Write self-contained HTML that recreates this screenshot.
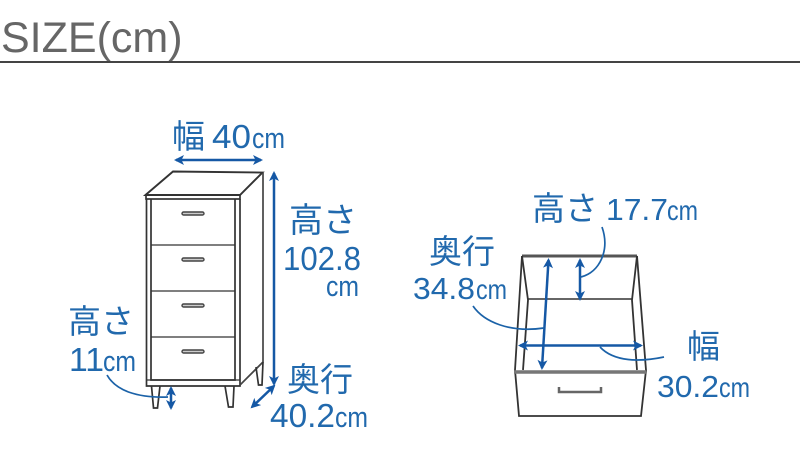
<!DOCTYPE html>
<html><head><meta charset="utf-8"><style>
html,body{margin:0;padding:0;background:#fff}
svg{display:block}
text{font-family:"Liberation Sans","Noto Sans CJK JP",sans-serif;fill:#2169ad}
</style></head><body>
<svg width="800" height="476" viewBox="0 0 800 476" xmlns="http://www.w3.org/2000/svg">
<defs>
<marker id="a" viewBox="0 0 10 10" refX="8" refY="5" markerWidth="4" markerHeight="4" orient="auto-start-reverse" markerUnits="strokeWidth"><path d="M0 0L10 5L0 10L2.500 5Z" fill="#1558a5"/></marker>
</defs>
<text x="1" y="52" font-size="43" style="fill:#666">SIZE(cm)</text>
<rect x="0" y="61" width="800" height="2" fill="#444"/>

<!-- chest -->
<g fill="none" stroke="#333" stroke-width="1.700">
<path d="M145.500 195L173 171.500L262.500 172.500L240 195Z" stroke-width="1.900"/>
<rect x="146" y="195" width="94" height="4"/>
<path d="M146.500 199V386H240V199"/>
<path d="M151 199V380H235V199"/>
<path d="M151 245H235M151 291H235M151 337H235" stroke-width="1.300"/>
<path d="M146.500 380H240" stroke-width="1.300"/>
<path d="M263 173V362L240 385" stroke="#444"/>
<path d="M151.500 386L153.500 408H157.500L160 386"/>
<path d="M225 386L228.500 407H233L234 386"/>
<path d="M256 367L258.500 385H262L263 362"/>
</g>
<g fill="#ccc" stroke="#444" stroke-width="1.400">
<rect x="182" y="212" width="22" height="3" rx="1.500"/>
<rect x="182" y="258" width="22" height="3" rx="1.500"/>
<rect x="182" y="304" width="22" height="3" rx="1.500"/>
<rect x="182" y="350" width="22" height="3" rx="1.500"/>
</g>

<!-- drawer -->
<g fill="none" stroke="#333" stroke-width="1.800">
<path d="M522 256H637" stroke-width="3" stroke="#555"/>
<path d="M522 256L515 370L519 416H641L646 370L637 256"/>
<path d="M522 256L528 300L523 370"/>
<path d="M637 256L632 300L637 370"/>
<path d="M528 299H632" stroke-width="1.400"/>
<path d="M514 372H646" stroke-width="3.500" stroke="#777"/>
<path d="M559 387V392H601V387" stroke="#666" stroke-width="2.500"/>
</g>

<!-- blue dimensions -->
<g fill="none" stroke="#1558a5" stroke-width="2.500">
<path d="M176 160H261" marker-start="url(#a)" marker-end="url(#a)"/>
<path d="M274 173V384" marker-start="url(#a)" marker-end="url(#a)"/>
<path d="M171 388V408" marker-start="url(#a)" marker-end="url(#a)"/>
<path d="M252 407L274 386" marker-start="url(#a)" marker-end="url(#a)"/>
<path d="M548.500 260L542 368" marker-start="url(#a)" marker-end="url(#a)"/>
<path d="M580 260V299" marker-start="url(#a)" marker-end="url(#a)"/>
<path d="M520 345.500H641" marker-start="url(#a)" marker-end="url(#a)"/>
</g>
<g fill="none" stroke="#1b62a8" stroke-width="1.700">
<path d="M107 375C116 391 138 398 168 397"/>
<path d="M602 227C610 250 600 272 581 277"/>
<path d="M473 306C484 322 510 333 544 328"/>
<path d="M600 347C614 362 640 362 664 357"/>
</g>

<!-- labels -->
<text x="172" y="148" font-size="33">幅</text>
<text x="212" y="148" font-size="33" textLength="39" lengthAdjust="spacingAndGlyphs">40</text>
<text x="252" y="148" font-size="29" textLength="33" lengthAdjust="spacingAndGlyphs">cm</text>
<text x="289" y="232" font-size="34">高さ</text>
<text x="283" y="270" font-size="33" textLength="78" lengthAdjust="spacingAndGlyphs">102.8</text>
<text x="326" y="296" font-size="29" textLength="33" lengthAdjust="spacingAndGlyphs">cm</text>
<text x="68" y="333" font-size="33">高さ</text>
<text x="69" y="371" font-size="33" textLength="35" lengthAdjust="spacingAndGlyphs">11</text>
<text x="103" y="371" font-size="29" textLength="33" lengthAdjust="spacingAndGlyphs">cm</text>
<text x="287" y="391" font-size="33">奥行</text>
<text x="270" y="427" font-size="33" textLength="65" lengthAdjust="spacingAndGlyphs">40.2</text>
<text x="335" y="427" font-size="29" textLength="33" lengthAdjust="spacingAndGlyphs">cm</text>
<text x="532" y="220" font-size="33">高さ</text>
<text x="606" y="220" font-size="31" textLength="62" lengthAdjust="spacingAndGlyphs">17.7</text>
<text x="667" y="220" font-size="28" textLength="31" lengthAdjust="spacingAndGlyphs">cm</text>
<text x="429" y="263" font-size="33">奥行</text>
<text x="413" y="299" font-size="31" textLength="62" lengthAdjust="spacingAndGlyphs">34.8</text>
<text x="476" y="299" font-size="28" textLength="31" lengthAdjust="spacingAndGlyphs">cm</text>
<text x="687" y="358" font-size="33">幅</text>
<text x="657" y="397" font-size="31" textLength="62" lengthAdjust="spacingAndGlyphs">30.2</text>
<text x="719" y="397" font-size="28" textLength="31" lengthAdjust="spacingAndGlyphs">cm</text>
</svg>
</body></html>
